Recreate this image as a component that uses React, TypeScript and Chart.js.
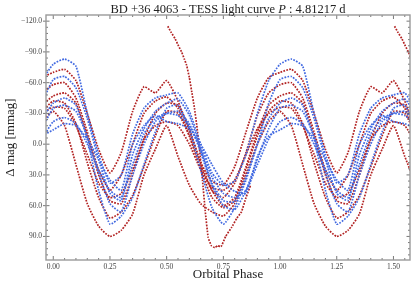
import React, { useEffect, useRef } from "react";
import { Chart, registerables } from "chart.js";

Chart.register(...registerables);

// Orbital phase grid (one cycle, values repeat every 1.0 in phase)
const phaseGrid = [0, 0.05, 0.1, 0.15, 0.2, 0.25, 0.3, 0.35, 0.4, 0.45, 0.5, 0.55, 0.6, 0.65, 0.7, 0.75, 0.8, 0.85, 0.9, 0.95];

// Red sector tracks (mmag)
const red1 = [-32, -18, 20, 58, 80, 90, 84, 68, 30, 5, -18, 12, 40, 58, 66, 70, 58, 30, 0, -22];
const red2 = [-70, -73, -62, -30, 5, 28, 8, -32, -56, -50, -62, -42, -12, 18, 36, 40, 22, -12, -45, -65];
const red3 = [-58, -60, -45, -12, 25, 45, 30, 0, -30, -42, -46, -35, -8, 22, 45, 52, 38, 8, -28, -50];
const red4 = [-47, -50, -40, -8, 30, 55, 58, 30, -5, -30, -40, -38, -15, 18, 45, 60, 52, 22, -12, -38];
const red5 = [-42, -40, -20, 18, 52, 72, 66, 50, 22, -8, -32, -30, -8, 25, 52, 62, 55, 25, -8, -32];
const red6 = [-36, -35, -18, 10, 38, 52, 48, 25, -5, -18, -22, -18, 0, 25, 42, 45, 35, 10, -15, -30];

// Blue sector tracks (mmag)
const blue1 = [-78, -83, -76, -30, 10, 38, 30, -10, -35, -45, -48, -50, -32, 0, 28, 40, 36, 10, -30, -62];
const blue2 = [-63, -66, -55, -25, 15, 48, 55, 10, -15, -32, -40, -44, -28, 5, 38, 55, 56, 32, 0, -40];
const blue3 = [-40, -45, -38, -5, 45, 78, 70, 52, 20, -12, -35, -38, -15, 25, 62, 78, 62, 35, 0, -25];
const blue4 = [-35, -38, -32, -8, 28, 58, 66, 30, 0, -22, -30, -32, -20, 8, 40, 60, 64, 45, 15, -15];
const blue5 = [-22, -26, -20, 0, 25, 45, 52, 20, -10, -25, -30, -28, -18, 5, 32, 48, 52, 45, 20, -5];
const blue6 = [-14, -20, -18, -5, 15, 35, 45, 0, -18, -28, -22, -20, -15, 0, 20, 38, 46, 48, 12, -8];

// Non-periodic red ramp segment
const rampPhases = [0.505, 0.52, 0.537, 0.552, 0.566, 0.578, 0.588, 0.6, 0.61, 0.622, 0.633, 0.645, 0.658, 0.67, 0.683, 0.697, 0.712, 0.725, 0.74, 0.76, 0.787, 0.81, 0.83, 0.85, 0.87];
const rampMags = [-115, -109, -103, -96, -90, -83, -77, -65, -52, -36, -18, 5, 35, 65, 91, 99, 101, 99, 100, 90, 81, 72, 66, 52, 40];

const xTicks = [0, 0.25, 0.5, 0.75, 1.0, 1.25, 1.5];
const yTicks = [-120, -90, -60, -30, 0, 30, 60, 90];

const X_MIN = -0.032;
const X_MAX = 1.573;
const Y_MIN = -126;
const Y_MAX = 113;

const RED = "#b22222";
const BLUE = "#4169e1";
const SERIF = "'Liberation Serif', 'DejaVu Serif', serif";

function folded(values: number[]) {
  const pts: { x: number; y: number }[] = [];
  for (let c = -1; c <= 1; c++) {
    for (let i = 0; i < phaseGrid.length; i++) {
      const x = phaseGrid[i] + c;
      if (x >= X_MIN - 0.06 && x <= X_MAX + 0.06) pts.push({ x, y: values[i] });
    }
  }
  return pts;
}

function shifted(ph: number[], vals: number[], shift: number) {
  return ph.map((p, i) => ({ x: p + shift, y: vals[i] }));
}

function trackDataset(data: { x: number; y: number }[], color: string, tension: number) {
  return {
    data,
    showLine: true,
    borderColor: color,
    backgroundColor: color,
    borderWidth: 1.7,
    borderDash: [1.7, 1.3],
    pointRadius: 0,
    tension,
    fill: false,
  };
}

const decorPlugin = {
  id: "decor",
  afterDraw(chart: any) {
    const { ctx, chartArea: a, scales } = chart;
    const x = scales.x;
    const y = scales.y;
    ctx.save();
    const seg = (x1: number, y1: number, x2: number, y2: number) => {
      ctx.beginPath();
      ctx.moveTo(x1, y1);
      ctx.lineTo(x2, y2);
      ctx.stroke();
    };
    ctx.strokeStyle = "#555";
    ctx.lineWidth = 0.8;
    for (let k = -1; k <= 32; k++) {
      const v = k * 0.05;
      const px = x.getPixelForValue(v);
      if (px < a.left + 1 || px > a.right - 1) continue;
      const major = k % 5 === 0;
      const len = major ? 4 : 2;
      seg(px, a.bottom, px, a.bottom - len);
      seg(px, a.top, px, a.top + len);
    }
    for (let k = -22; k <= 20; k++) {
      const v = k * 6;
      const py = y.getPixelForValue(v);
      if (py < a.top + 1 || py > a.bottom - 1) continue;
      const major = k % 5 === 0;
      if (major) {
        seg(a.left - 3, py, a.left + 3.5, py);
        seg(a.right - 3.5, py, a.right, py);
      } else {
        seg(a.left, py, a.left + 2, py);
        seg(a.right - 2, py, a.right, py);
      }
    }
    ctx.strokeStyle = "#9a9a9a";
    ctx.lineWidth = 1.4;
    ctx.strokeRect(a.left, a.top, a.right - a.left, a.bottom - a.top);

    const normal = `12.5px ${SERIF}`;
    const italic = `italic 12.5px ${SERIF}`;
    const parts = [
      { t: "BD +36 4063 - TESS light curve ", f: normal },
      { t: "P", f: italic },
      { t: " : 4.81217 d", f: normal },
    ];
    let total = 0;
    for (const p of parts) {
      ctx.font = p.f;
      total += ctx.measureText(p.t).width;
    }
    let cx = (a.left + a.right) / 2 - total / 2;
    ctx.fillStyle = "#222";
    ctx.textBaseline = "middle";
    ctx.textAlign = "left";
    for (const p of parts) {
      ctx.font = p.f;
      ctx.fillText(p.t, cx, 9.5);
      cx += ctx.measureText(p.t).width;
    }
    ctx.restore();
  },
};

export default function App() {
  const ref = useRef<HTMLCanvasElement | null>(null);

  useEffect(() => {
    if (!ref.current) return;
    const blues = [blue1, blue2, blue3, blue4, blue5, blue6].map((v) => trackDataset(folded(v), BLUE, 0.18));
    const reds = [red1, red2, red3, red4, red5, red6].map((v) => trackDataset(folded(v), RED, 0.18));
    const ramp = [
      trackDataset(shifted(rampPhases, rampMags, 0), RED, 0.1),
      trackDataset(shifted(rampPhases, rampMags, 1), RED, 0.1),
    ];
    const chart = new Chart(ref.current, {
      type: "scatter",
      data: { datasets: [...blues, ...reds, ...ramp] as any },
      options: {
        animation: false,
        responsive: false,
        layout: { padding: { left: 0, right: 5, top: 15, bottom: 0 } },
        plugins: {
          legend: { display: false },
          tooltip: { enabled: false },
          title: { display: false },
        },
        scales: {
          x: {
            type: "linear",
            min: X_MIN,
            max: X_MAX,
            afterFit: (s: any) => {
              s.height = 28;
            },
            afterBuildTicks: (s: any) => {
              s.ticks = xTicks.map((v) => ({ value: v }));
            },
            grid: { display: false, drawTicks: false },
            border: { display: false },
            ticks: {
              autoSkip: false,
              maxRotation: 0,
              padding: 3,
              color: "#444",
              font: { family: SERIF, size: 7.5 },
              callback: (v: any) => Number(v).toFixed(2),
            },
            title: {
              display: true,
              text: "Orbital Phase",
              color: "#222",
              font: { family: SERIF, size: 13 },
              padding: { top: 0, bottom: 6 },
            },
          },
          y: {
            type: "linear",
            reverse: true,
            min: Y_MIN,
            max: Y_MAX,
            afterFit: (s: any) => {
              s.width = 46;
            },
            afterBuildTicks: (s: any) => {
              s.ticks = yTicks.map((v) => ({ value: v }));
            },
            grid: { display: false, drawTicks: false },
            border: { display: false },
            ticks: {
              autoSkip: false,
              padding: 4,
              color: "#444",
              font: { family: SERIF, size: 7.5 },
              callback: (v: any) => (Number(v) < 0 ? "\u2212" : "") + Math.abs(Number(v)).toFixed(1),
            },
            title: {
              display: true,
              text: "\u0394 mag [mmag]",
              color: "#222",
              font: { family: SERIF, size: 13 },
              padding: { top: 3, bottom: 0 },
            },
          },
        },
      },
      plugins: [decorPlugin],
    });
    return () => chart.destroy();
  }, []);

  return (
    <div style={{ position: "fixed", left: 0, top: 0, width: 415, height: 288, background: "#fff" }}>
      <canvas ref={ref} width={415} height={288} style={{ width: 415, height: 288, display: "block" }} />
    </div>
  );
}
